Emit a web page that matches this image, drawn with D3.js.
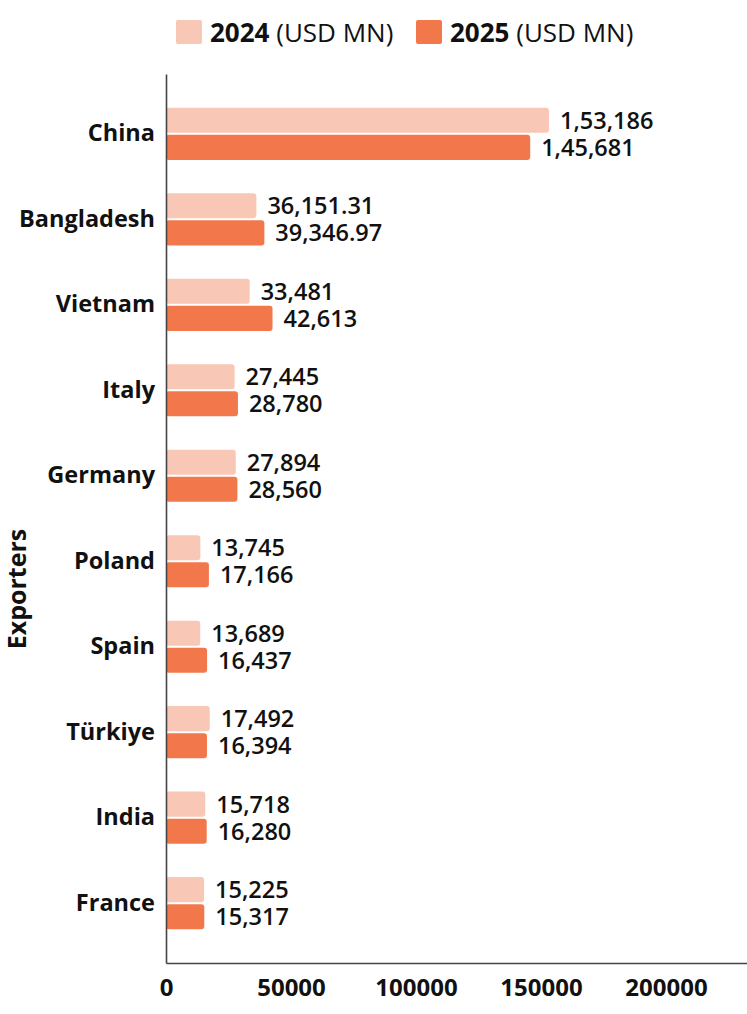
<!DOCTYPE html>
<html>
<head>
<meta charset="utf-8">
<script src="https://cdn.jsdelivr.net/npm/d3@7"></script>
<style>
  html, body { margin: 0; padding: 0; background: #fff; }
  svg { display: block; font-family: "Open Sans", "Noto Sans", sans-serif; }
</style>
</head>
<body>
<svg id="chart" width="747" height="1014"></svg>
<script>
const categories = ["China", "Bangladesh", "Vietnam", "Italy", "Germany", "Poland", "Spain", "Türkiye", "India", "France"];
const series = ["2024", "2025"];
const values2024 = [153186, 36151.31, 33481, 27445, 27894, 13745, 13689, 17492, 15718, 15225];
const values2025 = [145681, 39346.97, 42613, 28780, 28560, 17166, 16437, 16394, 16280, 15317];
const labels2024 = ["1,53,186", "36,151.31", "33,481", "27,445", "27,894", "13,745", "13,689", "17,492", "15,718", "15,225"];
const labels2025 = ["1,45,681", "39,346.97", "42,613", "28,780", "28,560", "17,166", "16,437", "16,394", "16,280", "15,317"];
const xTicks = [0, 50000, 100000, 150000, 200000];
const colors = ["#F9C7B5", "#F2784C"];

const data = categories.map((c, i) => ({
  category: c,
  items: [
    { key: "2024", value: values2024[i], label: labels2024[i] },
    { key: "2025", value: values2025[i], label: labels2025[i] }
  ]
}));

const svg = d3.select("#chart");
const mLeft = 166, mRight = 747, mTop = 74, mBottom = 963;

const x = d3.scaleLinear().domain([0, 232400]).range([mLeft, mRight]);
const y = d3.scaleBand().domain(categories).range([mTop, mBottom]).paddingInner(0.345).paddingOuter(0.372);
const ySub = d3.scaleBand().domain(series).range([0, y.bandwidth()]).padding(0.07);
const color = d3.scaleOrdinal().domain(series).range(colors);

// Bars
const groups = svg.append("g").selectAll("g").data(data).join("g")
  .attr("transform", d => `translate(0,${y(d.category)})`);

groups.selectAll("rect").data(d => d.items).join("rect")
  .attr("x", x(0))
  .attr("y", d => ySub(d.key))
  .attr("width", d => x(d.value) - x(0))
  .attr("height", ySub.bandwidth())
  .attr("rx", 3)
  .attr("fill", d => color(d.key));

groups.selectAll("text").data(d => d.items).join("text")
  .attr("x", d => x(d.value) + 11)
  .attr("y", d => ySub(d.key) + ySub.bandwidth() / 2)
  .attr("dy", "0.36em")
  .attr("font-size", 23.5)
  .attr("font-weight", 600)
  .attr("fill", "#111")
  .text(d => d.label);

// Axes
const xAxis = svg.append("g")
  .attr("transform", `translate(0,${mBottom})`)
  .call(d3.axisBottom(x).tickValues(xTicks).tickFormat(d3.format("d")).tickSize(0).tickPadding(16));
xAxis.select(".domain").attr("stroke", "#444").attr("stroke-width", 1.6);
xAxis.selectAll("text").attr("font-size", 24).attr("font-weight", 700).attr("fill", "#111")
  .attr("font-family", "'Open Sans', sans-serif");

const yAxis = svg.append("g")
  .attr("transform", `translate(${mLeft},0)`)
  .call(d3.axisLeft(y).tickSize(0).tickPadding(11));
yAxis.select(".domain").attr("stroke", "#444").attr("stroke-width", 1.6);
yAxis.selectAll("text").attr("font-size", 23.5).attr("font-weight", 700).attr("fill", "#111")
  .attr("font-family", "'Open Sans', sans-serif").attr("dy", "0.32em");

// Y title
svg.append("text")
  .attr("transform", "translate(26,589) rotate(-90)")
  .attr("text-anchor", "middle")
  .attr("font-size", 25)
  .attr("font-weight", 700)
  .attr("fill", "#111")
  .text("Exporters");

// Legend
const legendPos = [176, 416];
const legend = svg.append("g").selectAll("g").data(series).join("g")
  .attr("transform", (d, i) => `translate(${legendPos[i]},20)`);
legend.append("rect").attr("width", 26).attr("height", 24).attr("rx", 2).attr("fill", d => color(d));
const lt = legend.append("text").attr("x", 34).attr("y", 22).attr("font-size", 26).attr("fill", "#111");
lt.append("tspan").attr("font-weight", 700).text(d => d);
lt.append("tspan").attr("font-weight", 400).text(" (USD MN)");
</script>
</body>
</html>
